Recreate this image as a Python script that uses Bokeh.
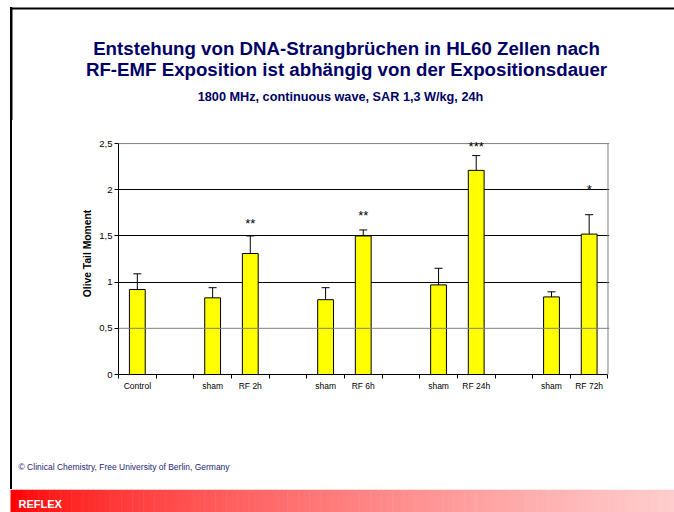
import numpy as np
from bokeh.plotting import figure
from bokeh.layouts import column
from bokeh.models import (FixedTicker, LabelSet, Range1d, Span, Title,
                          ColumnDataSource, Whisker, TeeHead)
from bokeh.core.properties import value
from bokeh.embed import file_html
from bokeh.resources import INLINE

# ---------------- data ----------------
title_1 = "Entstehung von DNA-Strangbrüchen in HL60 Zellen nach"
title_2 = "RF-EMF Exposition ist abhängig von der Expositionsdauer"
subtitle = "1800 MHz, continuous wave, SAR 1,3 W/kg, 24h"
y_title = "Olive Tail Moment"
credit = "© Clinical Chemistry, Free University of Berlin, Germany"
footer = "REFLEX"

groups = [["Control"], ["sham", "RF 2h"], ["sham", "RF 6h"],
          ["sham", "RF 24h"], ["sham", "RF 72h"]]
means = [0.92, 0.83, 1.31, 0.81, 1.50, 0.97, 2.21, 0.84, 1.52]
errors = [0.17, 0.11, 0.19, 0.13, 0.065, 0.18, 0.16, 0.055, 0.21]
stars = ["", "", "**", "", "**", "", "***", "", "*"]
star_levels = [0.0, 0.0, 1.63, 0.0, 1.72, 0.0, 2.47, 0.0, 2.0]
y_ticks = [0, 0.5, 1, 1.5, 2, 2.5]
y_tick_labels = ["0", "0,5", "1", "1,5", "2", "2,5"]

# ---------------- layout ----------------
FONT = "Liberation Sans"
NAVY = "#000066"
W, H = 674, 512
HEAD_H, FOOT_TOP = 120, 489          # page rows: header | chart | footer band
FL, FR, FB = 118, 608, 374           # frame left/right/bottom (page px)
Y_TOP = 2.62                          # range top so 2.5 sits at page y 143
FT = 132


def canvas(w, h):
    f = figure(width=w, height=h, x_range=Range1d(0, w), y_range=Range1d(h, 0),
               output_backend="svg", toolbar_location=None,
               x_axis_location=None, y_axis_location=None,
               min_border=0, min_border_left=0, min_border_right=0,
               min_border_top=0, min_border_bottom=0)
    f.grid.visible = False
    f.outline_line_color = None
    f.background_fill_color = None
    f.border_fill_color = None
    f.frame_align = False
    return f


# header
head = canvas(W, HEAD_H)
head.quad(left=[10], right=[W], top=[7], bottom=[9], fill_color="black", line_color=None)
head.quad(left=[10], right=[12], top=[7], bottom=[HEAD_H], fill_color="black", line_color=None)
head.text(x=[346, 346, 340], y=[48, 69, 96], text=[title_1, title_2, subtitle],
          text_font=value(FONT), text_font_style="bold",
          text_font_size=["18.7px", "18.7px", "12.7px"], text_color=NAVY,
          text_align="center", text_baseline="middle")

# chart
cats, xs = [], []
slot = 0
for gi, g in enumerate(groups):
    if gi > 0:
        slot += 1
    for c in g:
        cats.append(c)
        xs.append(slot + 0.5)
        slot += 1
n_slots = slot

p = figure(width=W, height=FOOT_TOP - HEAD_H,
           x_range=Range1d(0, n_slots + 0.04), y_range=Range1d(0, Y_TOP),
           output_backend="svg", toolbar_location=None,
           min_border_left=FL, min_border_right=W - FR - 1,
           min_border_top=FT - HEAD_H, min_border_bottom=FOOT_TOP - FB)
p.frame_align = False
p.background_fill_color = None
p.border_fill_color = None
p.outline_line_color = None

src = ColumnDataSource(dict(
    x=xs, top=means,
    lower=[m - e for m, e in zip(means, errors)],
    upper=[m + e for m, e in zip(means, errors)],
    star=stars, sy=star_levels))

p.ygrid.ticker = FixedTicker(ticks=[t for t in y_ticks if 0.5 < t < max(y_ticks)])
p.ygrid.grid_line_color = "black"
p.xgrid.grid_line_color = None
p.add_layout(Span(location=y_ticks[1], dimension="width", line_color="#808080", line_width=1))
p.add_layout(Span(location=y_ticks[-1], dimension="width", line_color="#808080", line_width=1))
p.segment(x0=[n_slots], y0=[0], x1=[n_slots], y1=[y_ticks[-1]], line_color="#808080", line_width=1)

p.vbar(x="x", top="top", bottom=0, width=0.42, source=src,
       fill_color="#ffff00", line_color="black", line_width=1)
p.add_layout(Whisker(base="x", lower="lower", upper="upper", source=src,
                     line_color="black", line_width=1,
                     upper_head=TeeHead(size=8, line_color="black", line_width=1),
                     lower_head=TeeHead(size=8, line_color="black", line_width=1)))
p.add_layout(LabelSet(x="x", y="sy", text="star", source=src,
                      text_align="center", text_baseline="middle",
                      text_font=value(FONT), text_font_size="13px", text_color="black"))

# axes
p.yaxis.ticker = FixedTicker(ticks=y_ticks)
p.yaxis.bounds = (0, y_ticks[-1])
p.yaxis.major_label_overrides = dict(zip(y_ticks, y_tick_labels))
p.yaxis.major_tick_out = 4
p.yaxis.major_tick_in = 0
p.yaxis.minor_tick_line_color = None
p.yaxis.major_label_standoff = 2
p.yaxis.axis_label = y_title
p.yaxis.axis_label_text_font = FONT
p.yaxis.axis_label_text_font_style = "bold"
p.yaxis.axis_label_text_font_size = "10.3px"
p.yaxis.axis_label_text_color = "black"
p.yaxis.axis_label_standoff = 3
p.xaxis.ticker = FixedTicker(ticks=xs, minor_ticks=list(range(0, n_slots + 1)))
p.xaxis.bounds = (0, n_slots)
p.xaxis.major_label_overrides = dict(zip(xs, cats))
p.xaxis.major_tick_line_color = None
p.xaxis.major_tick_out = 0
p.xaxis.major_tick_in = 0
p.xaxis.minor_tick_line_color = "black"
p.xaxis.minor_tick_out = 4
p.xaxis.minor_tick_in = 0
p.xaxis.major_label_standoff = 2
for ax in (p.xaxis[0], p.yaxis[0]):
    ax.axis_line_color = "black"
    ax.major_label_text_font = FONT
    ax.major_label_text_color = "black"
p.xaxis.major_label_text_font_size = "8.5px"
p.yaxis.major_label_text_font_size = "9.5px"

# spacer panel, then the credit line as a title in the chart's lower border
p.add_layout(Title(text=" ", standoff=54, text_font=FONT, text_font_size="8.5px"), "below")
p.add_layout(Title(text=credit, align="left", offset=-100, standoff=0,
                   text_font=FONT, text_font_size="8.5px", text_font_style="normal",
                   text_color="#262673"), "below")

# footer band
foot = canvas(W, H - FOOT_TOP)
n_strip = 120
edges = np.linspace(10, W, n_strip + 1)
shade = [int(round(205 * (i / (n_strip - 1)) ** 0.7)) for i in range(n_strip)]
foot.quad(left=edges[:-1], right=edges[1:] + 0.5, top=0, bottom=H - FOOT_TOP,
          fill_color=["#%02x%02x%02x" % (255, s, s) for s in shade], line_color=None)
foot.text(x=[18], y=[503 - FOOT_TOP], text=[footer], text_font=value(FONT),
          text_font_style="bold", text_font_size="11px", text_color="white",
          text_align="left", text_baseline="middle")

layout = column(head, p, foot, spacing=0,
                styles={"background": "linear-gradient(#000, #000) 10px 7px / 2px 482px no-repeat, #fff"})
open("out.html", "w").write(file_html(layout, INLINE))
